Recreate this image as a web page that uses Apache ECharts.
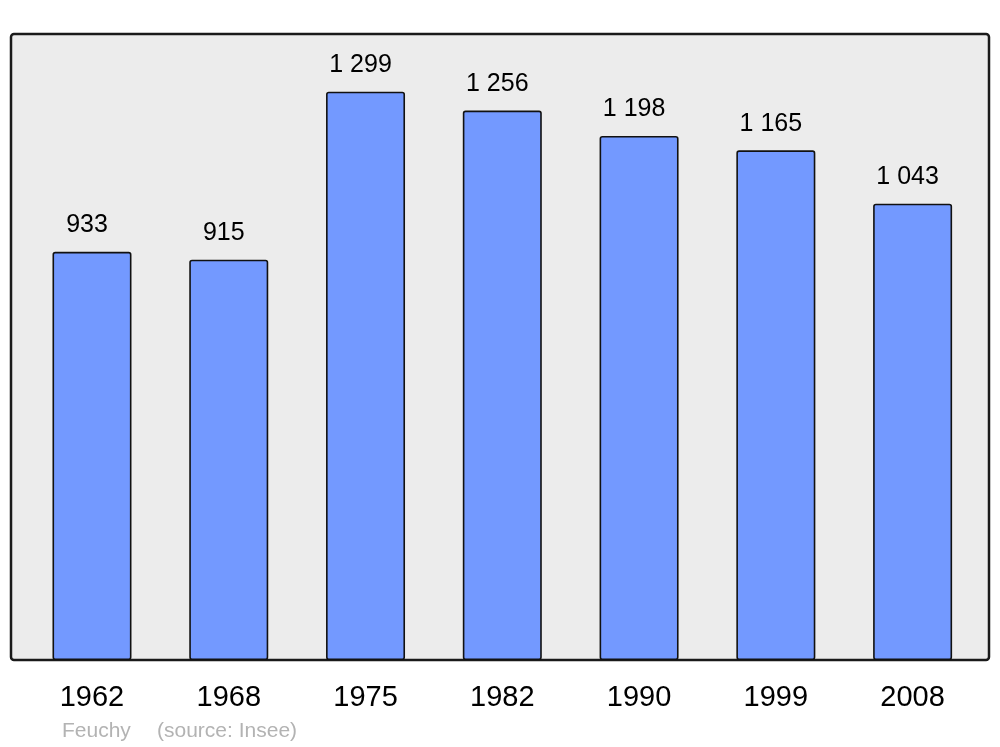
<!DOCTYPE html>
<html>
<head>
<meta charset="utf-8">
<script src="https://cdn.jsdelivr.net/npm/echarts@6/dist/echarts.min.js"></script>
<style>
html,body{margin:0;padding:0;background:#fff;}
#c{width:1000px;height:747px;}
</style>
</head>
<body>
<div id="c"></div>
<script>
const years = ['1962','1968','1975','1982','1990','1999','2008'];
const population = [933, 915, 1299, 1256, 1198, 1165, 1043];
const placeName = 'Feuchy';
const sourceText = '(source: Insee)';

function fmt(v){
  return String(v).replace(/\B(?=(\d{3})+(?!\d))/g, ' ');
}

const chart = echarts.init(document.getElementById('c'), null, {renderer:'canvas'});
const font = '"Liberation Sans", Arial, sans-serif';
chart.setOption({
  animation: false,
  backgroundColor: '#ffffff',
  graphic: [
    {
      type: 'rect', z: -10, silent: true,
      shape: {x: 11, y: 34, width: 978, height: 626, r: 3},
      style: {fill: '#ececec', stroke: '#1a1a1a', lineWidth: 2.5}
    },
    {
      type: 'text', left: 62, top: 721,
      style: {text: placeName, fill: '#b3b3b3', font: '21px ' + font}
    },
    {
      type: 'text', left: 157, top: 721,
      style: {text: sourceText, fill: '#b3b3b3', font: '21px ' + font}
    }
  ],
  grid: {left: 23.6, right: 19, top: 34, bottom: 87, containLabel: false},
  xAxis: {
    type: 'category',
    data: years,
    axisLine: {show: false},
    axisTick: {show: false},
    axisLabel: {color: '#000', fontSize: 29, fontFamily: font, margin: 23}
  },
  yAxis: {
    type: 'value', min: 0, max: 1431,
    show: false,
    splitLine: {show: false}
  },
  series: [{
    type: 'bar',
    data: population,
    barWidth: 79,
    itemStyle: {color: '#7399ff', borderColor: '#111', borderWidth: 1.6, borderRadius: 2},
    label: {
      show: true, position: 'top', distance: 14, offset: [-5, 0],
      color: '#000', fontSize: 25, fontFamily: font,
      formatter: p => fmt(p.value)
    }
  }]
});
</script>
</body>
</html>
